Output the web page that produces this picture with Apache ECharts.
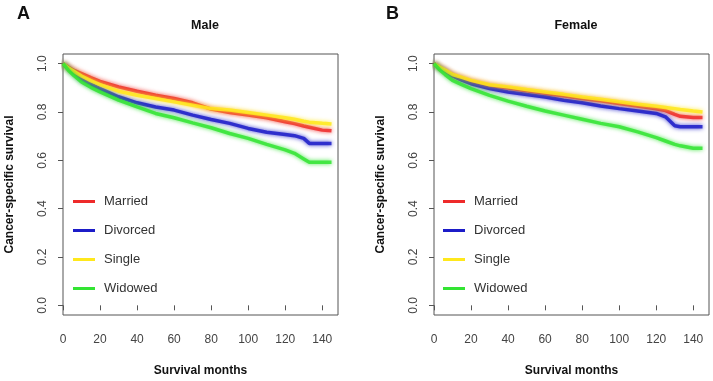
<!DOCTYPE html>
<html>
<head>
<meta charset="utf-8">
<script src="https://cdn.jsdelivr.net/npm/echarts@6/dist/echarts.min.js"></script>
<style>
  html, body { margin: 0; padding: 0; background: #fff; }
  #chart { width: 713px; height: 381px; }
</style>
</head>
<body>
<div id="chart"></div>
<script>
// survival months (shared by all curves)
const months = [0, 3, 6, 10, 15, 20, 30, 40, 50, 60, 70, 80, 90, 100, 110, 120, 125, 130, 133, 140, 145];

// A: Male
const maleMarried  = [1.0, 0.985, 0.972, 0.959, 0.942, 0.927, 0.904, 0.886, 0.869, 0.856, 0.838, 0.812, 0.798, 0.787, 0.776, 0.760, 0.752, 0.742, 0.737, 0.725, 0.722];
const maleDivorced = [1.0, 0.980, 0.962, 0.935, 0.915, 0.897, 0.863, 0.838, 0.821, 0.808, 0.787, 0.769, 0.753, 0.732, 0.716, 0.707, 0.702, 0.691, 0.670, 0.670, 0.670];
const maleSingle   = [1.0, 0.982, 0.968, 0.949, 0.930, 0.913, 0.886, 0.869, 0.856, 0.842, 0.828, 0.814, 0.808, 0.798, 0.787, 0.776, 0.770, 0.762, 0.758, 0.753, 0.750];
const maleWidowed  = [1.0, 0.972, 0.950, 0.924, 0.902, 0.883, 0.849, 0.821, 0.794, 0.776, 0.755, 0.735, 0.711, 0.691, 0.666, 0.643, 0.629, 0.606, 0.592, 0.592, 0.592];

// B: Female
const femMarried  = [1.0, 0.985, 0.972, 0.953, 0.940, 0.927, 0.910, 0.899, 0.888, 0.877, 0.867, 0.856, 0.846, 0.835, 0.825, 0.813, 0.806, 0.790, 0.782, 0.777, 0.777];
const femDivorced = [1.0, 0.982, 0.970, 0.949, 0.932, 0.917, 0.897, 0.883, 0.872, 0.862, 0.849, 0.838, 0.825, 0.814, 0.804, 0.794, 0.780, 0.743, 0.739, 0.739, 0.739];
const femSingle   = [1.0, 0.986, 0.974, 0.955, 0.943, 0.931, 0.913, 0.904, 0.893, 0.883, 0.873, 0.862, 0.853, 0.842, 0.832, 0.824, 0.819, 0.814, 0.810, 0.804, 0.800];
const femWidowed  = [1.0, 0.975, 0.955, 0.931, 0.913, 0.897, 0.869, 0.845, 0.824, 0.804, 0.787, 0.770, 0.753, 0.739, 0.718, 0.694, 0.680, 0.666, 0.660, 0.650, 0.650];

const groups = ['Married', 'Divorced', 'Single', 'Widowed'];
const xTicks = [0, 20, 40, 60, 80, 100, 120, 140];
const yTicks = [0, 0.2, 0.4, 0.6, 0.8, 1.0];

const COLORS = ['#ee2a2a', '#1c1cc8', '#ffe81c', '#33e433'];
const GRAY = '#555';
const FONT = 'Liberation Sans, Arial, sans-serif';

function pairs(vals) {
    return months.map((m, i) => [m, vals[i]]);
}

function xAxis(gridIndex) {
    return {
        gridIndex: gridIndex,
        type: 'value',
        min: 0,
        max: 148.5,
        name: 'Survival months',
        nameLocation: 'middle',
        nameGap: 50,
        nameTextStyle: { fontFamily: FONT, fontWeight: 'bold', fontSize: 12, color: '#111' },
        axisLine: { show: false },
        axisTick: { show: true, inside: false, length: 5, customValues: xTicks, lineStyle: { color: GRAY } },
        axisLabel: { customValues: xTicks, margin: 19, fontFamily: FONT, fontSize: 12, color: '#444' },
        splitLine: { show: false }
    };
}

function yAxis(gridIndex) {
    return {
        gridIndex: gridIndex,
        type: 'value',
        min: -0.04,
        max: 1.04,
        name: 'Cancer-specific survival',
        nameLocation: 'middle',
        nameGap: 47,
        nameTextStyle: { fontFamily: FONT, fontWeight: 'bold', fontSize: 12, color: '#111' },
        axisLine: { show: false },
        axisTick: { show: true, inside: false, length: 5, customValues: yTicks, lineStyle: { color: GRAY } },
        axisLabel: {
            customValues: yTicks, rotate: 90, margin: 14,
            fontFamily: FONT, fontSize: 12, color: '#444',
            formatter: v => v.toFixed(1)
        },
        splitLine: { show: false }
    };
}

function curve(name, vals, idx, color) {
    return {
        name: name,
        type: 'line',
        xAxisIndex: idx,
        yAxisIndex: idx,
        data: pairs(vals),
        showSymbol: false,
        symbol: 'none',
        color: color,
        lineStyle: { width: 3.5, color: color, opacity: 0.85, shadowColor: color, shadowBlur: 4 },
        emphasis: { disabled: true },
        z: 3
    };
}

function legend(left) {
    return {
        data: groups,
        orient: 'vertical',
        left: left,
        top: 190,
        icon: 'rect',
        itemWidth: 22,
        itemHeight: 3,
        itemGap: 16,
        textStyle: { fontFamily: FONT, fontSize: 13, color: '#333', padding: [0, 0, 0, 4] },
        selectedMode: false
    };
}

const option = {
    animation: false,
    backgroundColor: '#fff',
    color: COLORS,
    title: [
        { text: 'A', left: 12, top: 0, textStyle: { fontFamily: FONT, fontWeight: 'bold', fontSize: 18, color: '#111' } },
        { text: 'Male', left: 200, top: 14, textAlign: 'center', textStyle: { fontFamily: FONT, fontWeight: 'bold', fontSize: 12.5, color: '#111' } },
        { text: 'B', left: 381, top: 0, textStyle: { fontFamily: FONT, fontWeight: 'bold', fontSize: 18, color: '#111' } },
        { text: 'Female', left: 571, top: 14, textAlign: 'center', textStyle: { fontFamily: FONT, fontWeight: 'bold', fontSize: 12.5, color: '#111' } }
    ],
    legend: [legend(68), legend(438)],
    grid: [
        { left: 63, right: 375, top: 54, bottom: 66, show: true, borderColor: GRAY, borderWidth: 1, outerBoundsMode: 'none' },
        { left: 434, right: 4, top: 54, bottom: 66, show: true, borderColor: GRAY, borderWidth: 1, outerBoundsMode: 'none' }
    ],
    xAxis: [xAxis(0), xAxis(1)],
    yAxis: [yAxis(0), yAxis(1)],
    series: [
        curve('Married', maleMarried, 0, COLORS[0]),
        curve('Divorced', maleDivorced, 0, COLORS[1]),
        curve('Single', maleSingle, 0, COLORS[2]),
        curve('Widowed', maleWidowed, 0, COLORS[3]),
        curve('Married', femMarried, 1, COLORS[0]),
        curve('Divorced', femDivorced, 1, COLORS[1]),
        curve('Single', femSingle, 1, COLORS[2]),
        curve('Widowed', femWidowed, 1, COLORS[3])
    ]
};

const chart = echarts.init(document.getElementById('chart'));
chart.setOption(option);
</script>
</body>
</html>
